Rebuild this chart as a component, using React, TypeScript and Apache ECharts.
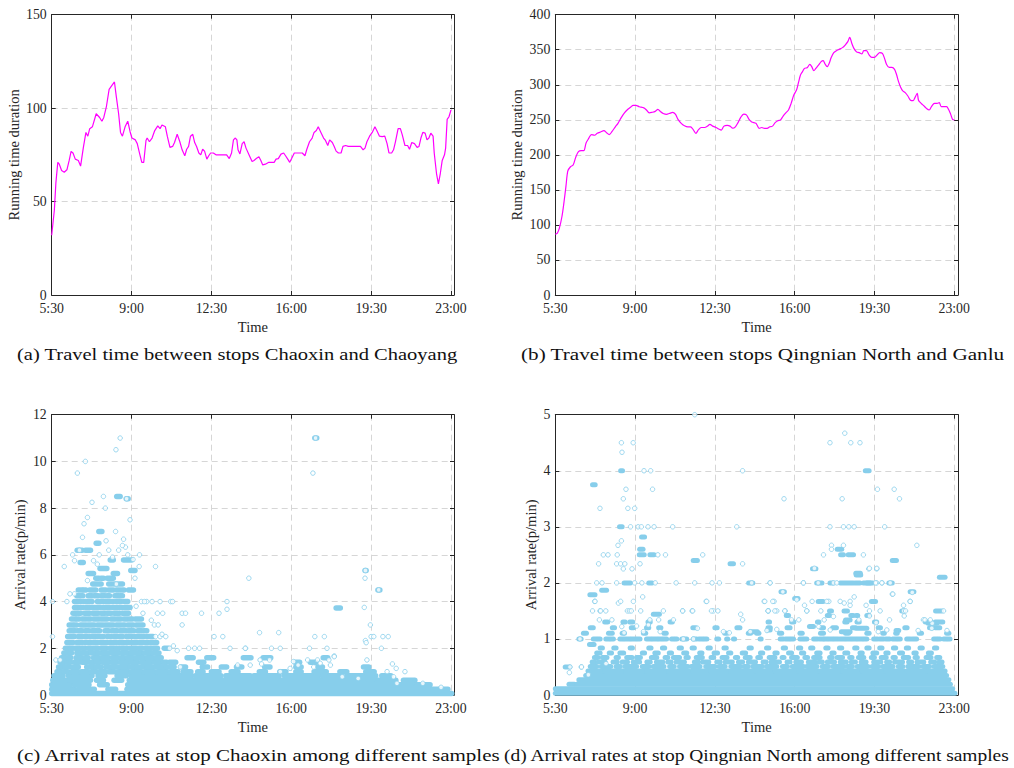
import { useEffect, useRef } from 'react';
import * as echarts from 'echarts';

// x values: minutes after 5:30
const timeTickLabels = ['5:30', '9:00', '12:30', '16:00', '19:30', '23:00'];

const travelTimeChaoxinChaoyang: [number, number][] = [
  [0,32],[7,45.5],[11,60],[16,71],[20,70],[26,66.6],[33,65.7],[40,67],[46,72],[51,76.8],[56,76],[62,72.7],[70,72],[76,69],[83,78.6],[90,87],[95,85],[100,89],[107,90],[117,97],[126,95],[132,93],[137,95],[144,101],[151,110],[158,112],[165,114],[170,106],[176,97],[181,87],[186,85],[193,90],[200,93],[206,87.5],[211,84],[220,83],[225,81],[232,75],[237,71],[242,71],[248,82.7],[251,84],[257,82],[264,84],[271,88],[279,90.5],[285,89],[290,91],[299,90],[304,85],[311,79],[318,79.5],[323,81.6],[330,86],[337,82],[343,77.7],[350,74.5],[355,78],[360,79.5],[365,85],[371,86],[376,81.6],[381,79.5],[387,76],[392,75],[397,78],[402,77],[408,72.7],[413,74.5],[418,76],[425,76],[432,75],[446,75],[460,75],[467,73],[473,76],[478,83],[483,84],[487,83],[490,77.7],[495,75.5],[501,81],[506,82],[511,78.6],[520,74.5],[527,71.4],
  [532,72],[538,73],[545,74],[550,72],[555,69.6],[562,70],[571,71],[585,71],[590,72.7],[596,73],[603,75.4],[610,76],[615,74.5],[622,72.3],[626,71],[631,73],[638,76],[652,76],[659,76],[666,74.5],[671,78],[678,82],[685,84],[690,87],[696,88],[701,90],[708,87],[715,84],[720,82.7],[726,80],[731,83],[738,81.6],[743,79.5],[748,77],[754,76],[761,76],[766,79.5],[773,80],[780,79.5],[794,79.5],[812,79.5],[819,77.7],[824,78.6],[829,82],[836,85],[843,87],[850,90],[855,88],[862,85],[869,84.8],[876,85],[882,81],[887,76],[894,76],[899,77.7],[904,82],[911,89],[917,89],[922,85.7],[929,80],[936,80],[941,78],[947,81.6],[954,81],[961,79],[966,79.5],[971,84],[976,87],[982,86.6],[987,83],[992,84],[997,86.6],[1003,85],[1006,76],[1012,65],[1017,59.5],[1022,65],[1027,72],[1033,75],[1036,78.6],[1040,94],[1045,95.5],[1050,99]
];

const travelTimeQingnianGanlu: [number, number][] = [
  [0,87],[5,88],[10.5,95],[17.5,112],[23,133],[28,155],[33,177],[40,183],[47,185.5],[54,197],[61,204.5],[68,206],[75,206],[81,217],[88,223.5],[95,229],[103.5,228],[110.5,230.7],[119,232.6],[128,234.5],[135,231.6],[142,229],[149,233],[158,240],[165,245],[174,253.5],[182,260],[191,265],[198,268],[205,270.6],[212,270.6],[221,268.7],[233,267],[240,264],[247,260],[254,260.6],[263,262],[270,265],[277,261.6],[284,259],[293,257.8],[300,259],[309,260.6],[316,258],[323,250.7],[331.5,245],[340,241.6],[349,240],[356,240],[363,236],[370,230.7],[377,236],[384,239],[393,239],[400,240.7],[407,243.5],[414,241],[423,239],[430,237],[437,235.4],[444,241],[452.5,242],[460,241],[467,238],[474,240],[481,246],[488,253.5],[496,258],[503,257],[510,250.6],[517,247],[528,245],
  [531,242.6],[536.5,237.8],[543.5,239],[550.6,237.8],[557.6,237.8],[564.6,240],[571.7,241],[578.7,246],[585.7,248.7],[592.7,249.7],[599.7,255.4],[606.8,260],[613.8,264],[620.8,273.5],[627.8,285.4],[634.9,292.5],[640,303],[645.4,314],[650.7,318.7],[656,323.4],[663,324.4],[670,329],[675,325.8],[680.5,320],[685.8,323.4],[692.8,328],[699.8,333],[705,334.4],[710,329.6],[715.6,325.8],[721,330.6],[726,338.6],[733,345.8],[740,348.6],[747,350.5],[756,353],[763,356.7],[770,361.5],[775,367.7],[780.6,359],[786,352],[793,347],[800,345.8],[807,344],[812,348.6],[819,348.6],[826,342.5],[833,339],[840,339],[847,342.5],[854,345.8],[861,344.8],[866.6,337.7],[872,329],[879,324.8],[886,324.8],[893,322],[898,315],[903.5,304.4],[909,296.3],[914,291.6],[921,288.7],[928,284],[935,278],[942,277.3],[947,282],[952.7,287.8],[956,278],[963,273.5],[970,270],[977,266.3],[984,264],[991,269.7],[998,273.5],[1005,273.5],[1010.6,274.4],[1016,268.7],[1023,268.7],[1030,268.7],[1035,265],[1040,259],[1045.7,250.7],[1051,249.7]
];

// runs of equal arrival rate: [start, end, rate]
const arrivalRunsChaoxin: [number, number, number][] = [
  [0,1052,0.06],
  [0,60,0.25],[70,112,0.25],[148,168,0.25],[198,1042,0.25],
  [0,50,0.44],[60,98,0.44],[126,146,0.44],[200,995,0.44],
  [3,38,0.63],[48,102,0.63],[118,136,0.63],[164,184,0.63],[204,905,0.63],[925,955,0.63],
  [6,30,0.82],[44,106,0.82],[122,140,0.82],[172,196,0.82],[208,368,0.82],[378,445,0.82],[458,522,0.82],[532,598,0.82],[612,702,0.82],[712,762,0.82],[776,852,0.82],[868,892,0.82],
  [14,26,1.0],[32,42,1.0],[52,70,1.0],[78,96,1.0],[104,118,1.0],[126,142,1.0],[150,166,1.0],[174,202,1.0],[210,236,1.0],[244,270,1.0],[278,304,1.0],[312,332,1.0],[346,366,1.0],[384,398,1.0],[420,440,1.0],[472,490,1.0],[546,562,1.0],[600,616,1.0],[642,656,1.0],[690,722,1.0],[758,776,1.0],[826,848,1.0],
  [18,30,1.2],[36,46,1.2],[56,70,1.2],[92,108,1.2],[116,130,1.2],[142,156,1.2],[162,176,1.2],[184,200,1.2],[206,216,1.2],[224,240,1.2],[250,266,1.2],[274,292,1.2],[300,322,1.2],[340,352,1.2],[396,410,1.2],[446,460,1.2],[486,500,1.2],[560,574,1.2],[642,656,1.2],[700,712,1.2],[820,834,1.2],
  [22,34,1.4],[40,50,1.4],[60,72,1.4],[80,92,1.4],[100,112,1.4],[118,126,1.4],[134,150,1.4],[158,170,1.4],[180,204,1.4],[210,226,1.4],[236,262,1.4],[270,288,1.4],[294,302,1.4],[310,326,1.4],[386,400,1.4],[640,652,1.4],[680,696,1.4],
  [26,38,1.6],[44,50,1.6],[64,80,1.6],[88,96,1.6],[110,124,1.6],[132,150,1.6],[160,174,1.6],[182,190,1.6],[198,214,1.6],[222,242,1.6],[250,266,1.6],[274,288,1.6],[356,372,1.6],[408,426,1.6],[504,524,1.6],[556,576,1.6],[714,726,1.6],
  [32,42,1.8],[48,52,1.8],[66,78,1.8],[86,94,1.8],[104,116,1.8],[122,128,1.8],[136,150,1.8],[158,176,1.8],[186,200,1.8],[208,236,1.8],[244,258,1.8],[266,282,1.8],
  [36,46,2.0],[50,56,2.0],[62,74,2.0],[80,88,2.0],[96,108,2.0],[114,122,2.0],[130,144,2.0],[152,164,2.0],[170,178,2.0],[184,198,2.0],[206,222,2.0],[228,238,2.0],[246,262,2.0],[268,278,2.0],[296,306,2.0],
  [40,48,2.25],[52,56,2.25],[66,80,2.25],[88,102,2.25],[110,120,2.25],[128,146,2.25],[154,170,2.25],[178,190,2.25],[196,202,2.25],[210,224,2.25],[232,252,2.25],[260,276,2.25],
  [42,52,2.5],[56,60,2.5],[70,82,2.5],[86,92,2.5],[100,116,2.5],[122,136,2.5],[146,156,2.5],[164,186,2.5],[196,210,2.5],[218,232,2.5],[236,242,2.5],[250,266,2.5],
  [46,54,2.75],[58,62,2.75],[68,80,2.75],[88,98,2.75],[106,118,2.75],[122,126,2.75],[140,150,2.75],[158,172,2.75],[180,196,2.75],[202,216,2.75],[226,236,2.75],[242,250,2.75],
  [46,56,3.0],[60,66,3.0],[76,90,3.0],[96,112,3.0],[120,134,3.0],[140,162,3.0],[170,182,3.0],[188,192,3.0],[200,214,3.0],[222,240,3.0],
  [52,62,3.25],[66,72,3.25],[80,90,3.25],[96,102,3.25],[110,124,3.25],[130,146,3.25],[156,166,3.25],[172,182,3.25],[190,200,3.25],[206,212,3.25],[220,236,3.25],
  [56,66,3.5],[70,76,3.5],[86,100,3.5],[108,122,3.5],[130,140,3.5],[146,156,3.5],[164,178,3.5],[186,202,3.5],
  [60,70,3.75],[76,82,3.75],[90,100,3.75],[106,112,3.75],[116,128,3.75],[136,152,3.75],[160,172,3.75],[178,186,3.75],[192,206,3.75],
  [60,68,4.0],[72,76,4.0],[84,96,4.0],[100,106,4.0],[120,136,4.0],[142,162,4.0],[170,182,4.0],[190,200,4.0],
  [66,74,4.25],[78,82,4.25],[96,106,4.25],[112,122,4.25],[130,140,4.25],[146,152,4.25],[166,176,4.25],[180,186,4.25],
  [70,80,4.5],[84,90,4.5],[100,116,4.5],[130,142,4.5],[150,162,4.5],[170,178,4.5],[184,190,4.5],[202,215,4.5],
  [108,118,4.75],[124,130,4.75],[150,158,4.75],[164,170,4.75],[176,186,4.75],
  [116,124,5.0],[130,136,5.0],[146,154,5.0],[158,162,5.0],[162,173,5.2],[96,110,5.2],[208,219,5.33],[127,145,5.42],
  [75,83,5.67],[154,162,5.78],[189,210,5.78],[67,80,6.2],[89,102,6.2],[117,124,6.5],[124,132,7.0],[171,180,8.5],[196,201,8.4],
  [748,759,3.72],[692,697,11],[858,863,4.5],[824,827,5.33],[925,947,0.5],[831,848,0.71]
];

const arrivalPointsChaoxin: [number, number][] = [
  [2,2.5],[2,4],[33,5.5],[67.5,9.5],[88.6,10],[106,8.25],[94,7.6],[85,7.33],[81,6.75],[55,6],[73,6.2],[136,8.5],[141,8],[169,10.5],[180,11],[197,8.4],[206,7.5],[168,7],[189,6.67],[194,6.33],[143,6.6],[231,6],[219,5],[273,5.5],[230,5.5],[250,4],[264,4],[285,4],[313,4],[318,4],[343,3.5],[352,3.5],[394,3.5],[440,3.5],[461,4],[461,3.67],[343,3],[278,3.5],[292,3.5],[273,2.5],[285,2.5],[427,2.5],[450,2.5],[360,2],[376,2],[389,2],[469,2],[510,2],[518.5,5],[546.6,2.67],[597,2.67],[578,2],[601,2],[687,9.5],[694,11],[678,2],[724,2],[717,2.5],[692,2.5],[743,1.67],[822,3.75],[824,5],[825,5.33],[838,3],[840,2.5],[847,2.5],[860,4.5],[867,2],[871,2.5],[885,2.5],[829,1.5],[825,2.33],[827,2.24],[896,1.33],[906,1.14],[929,1],[882,1],[899,0.78],[976,0.5],[1024,0.33],[908,0.5],[11,1.5],[22,1.5],[509,2],[548,1.5],[489,1.28],[522,1.28],[552,1.33],[573,1.5],[601,1.0],[627,1.14],[636,1.43],[648,1.28],[673,1.5],[699,1.5],[706,1.36],[729,1.5],[743,1.64],[689,1.2],[733,1.28],[764,0.78],[806,0.71],[338,1.2],[60,4.33],[48,4.33],[40,4],[170,4.75],[110,5.75],[125,6.0],[150,6.2],[160,5.9],[176,6.2],[186,6.4],[200,6.0],[214,5.8],[236,4],[244,4],[222,3.8],[240,3.5],[262,3.2],[270,3.0],[280,3.0],[290,2.6],[300,2.5],[310,2.0],[320,2.1],[330,1.9],[94,4.9],[120,5.6],[60,5.75]
];

const arrivalRunsQingnian: [number, number, number][] = [
  [0,1052,0.03],[0,1046,0.11],[36,50,0.19],[56,1040,0.19],[62,1036,0.27],[80,1030,0.35],
  [86,124,0.43],[131,178,0.43],[186,232,0.43],[240,291,0.43],[298,352,0.43],[361,402,0.43],[409,455,0.43],[463,521,0.43],[528,571,0.43],[579,633,0.43],[641,690,0.43],[697,748,0.43],[756,801,0.43],[808,862,0.43],[870,918,0.43],[926,975,0.43],[983,1026,0.43],
  [92,109,0.51],[121,146,0.51],[160,171,0.51],[183,214,0.51],[229,247,0.51],[258,286,0.51],[301,313,0.51],[327,349,0.51],[358,381,0.51],[396,420,0.51],[431,447,0.51],[462,488,0.51],[497,508,0.51],[520,545,0.51],[556,583,0.51],[598,611,0.51],[624,653,0.51],[662,689,0.51],[703,719,0.51],[731,760,0.51],[768,782,0.51],[795,823,0.51],[834,851,0.51],[862,889,0.51],[903,915,0.51],[928,957,0.51],[968,985,0.51],[997,1020,0.51],
  [97,104,0.59],[113,131,0.59],[152,163,0.59],[176,190,0.59],[205,222,0.59],[241,250,0.59],[266,283,0.59],[296,305,0.59],[318,340,0.59],[366,377,0.59],[388,404,0.59],[425,434,0.59],[447,466,0.59],[482,493,0.59],[508,527,0.59],[547,555,0.59],[568,590,0.59],[610,618,0.59],[633,648,0.59],[666,684,0.59],[694,703,0.59],[716,735,0.59],[750,766,0.59],[779,790,0.59],[805,818,0.59],[838,857,0.59],[872,880,0.59],[893,914,0.59],[930,938,0.59],[952,970,0.59],[988,999,0.59],[1010,1018,0.59],
  [103,112,0.67],[124,136,0.67],[160,166,0.67],[188,202,0.67],[214,224,0.67],[253,267,0.67],[289,296,0.67],[311,327,0.67],[344,350,0.67],[371,387,0.67],[410,417,0.67],[439,452,0.67],[474,480,0.67],[500,513,0.67],[533,540,0.67],[563,578,0.67],[597,602,0.67],[622,637,0.67],[657,664,0.67],[680,697,0.67],[722,729,0.67],[742,756,0.67],[775,781,0.67],[798,812,0.67],[832,840,0.67],[858,871,0.67],[889,895,0.67],[916,930,0.67],[947,953,0.67],[976,989,0.67],[1004,1012,0.67],
  [109,118,0.75],[142,148,0.75],[170,180,0.75],[229,235,0.75],[262,271,0.75],[300,306,0.75],[338,346,0.75],[380,386,0.75],[418,427,0.75],[456,462,0.75],[492,501,0.75],[540,546,0.75],[578,584,0.75],[614,622,0.75],[648,654,0.75],[688,697,0.75],[728,734,0.75],[762,770,0.75],[802,808,0.75],[836,846,0.75],[870,876,0.75],[906,914,0.75],[944,950,0.75],[982,990,0.75],
  [118,124,0.84],[154,160,0.84],[197,203,0.84],[246,252,0.84],[282,288,0.84],[326,332,0.84],[360,366,0.84],[402,408,0.84],[444,450,0.84],[510,516,0.84],[556,562,0.84],[600,606,0.84],[640,646,0.84],[672,678,0.84],[712,718,0.84],[748,754,0.84],[788,794,0.84],[820,826,0.84],[854,860,0.84],[890,896,0.84],[924,930,0.84],[960,966,0.84],[998,1004,0.84],[90,102,0.9],
  [62,68,1.0],[100,108,1.0],[112,118,1.0],[133,142,1.0],[146,153,1.0],[170,178,1.0],[182,196,1.0],[200,212,1.0],[216,223,1.0],[240,252,1.0],[256,268,1.0],[272,280,1.0],[284,293,1.0],[306,312,1.0],[316,320,1.0],[333,338,1.0],[342,346,1.0],[363,372,1.0],[378,388,1.0],[392,399,1.0],[425,430,1.0],[451,454,1.0],[469,472,1.0],[539,542,1.0],[592,600,1.0],[606,616,1.0],[620,627,1.0],[644,652,1.0],[656,662,1.0],[680,690,1.0],[696,705,1.0],[708,715,1.0],[719,730,1.0],[734,745,1.0],[750,762,1.0],[766,778,1.0],[782,792,1.0],[796,808,1.0],[812,820,1.0],[838,848,1.0],[854,864,1.0],[870,880,1.0],[888,898,1.0],[902,908,1.0],[925,935,1.0],[940,951,1.0],[996,1004,1.0],[1008,1013,1.0],[1022,1030,1.0],[1034,1039,1.0],
  [74,82,1.1],[140,150,1.1],[176,182,1.1],[232,238,1.1],[286,292,1.1],[446,452,1.1],[508,514,1.1],[530,536,1.1],[590,596,1.1],[644,650,1.1],[698,706,1.1],[764,772,1.1],[820,826,1.1],[862,866,1.1],[896,900,1.1],[958,964,1.1],[1030,1036,1.1],
  [92,100,1.2],[150,156,1.2],[200,206,1.2],[240,246,1.2],[272,278,1.2],[362,370,1.2],[420,426,1.2],[478,486,1.2],[560,566,1.2],[610,618,1.2],[700,706,1.2],[730,740,1.2],[782,790,1.2],[850,856,1.2],[920,926,1.2],[985,995,1.2],[1000,1012,1.2],
  [130,138,1.3],[178,184,1.3],[196,204,1.3],[244,250,1.3],[302,308,1.3],[560,564,1.3],[622,628,1.3],[690,694,1.3],[762,768,1.3],[794,800,1.3],[840,846,1.3],[974,980,1.3],[1000,1020,1.3],
  [258,274,1.44],[608,614,1.42],[716,722,1.42],[778,784,1.42],[792,796,1.42],[820,826,1.42],
  [26,38,0.5],[98,105,3.75],[91,104.5,1.79],[122,135,1.87],[169,176,3.0],[172,177,4.0],[227,235,2.82],[222,231,2.6],[221,234,2.5],[249,260,2.5],[181,198,2.0],[246,255,2.0],[363,374,2.4],[460,469,2.34],[509,520,2.0],[594,603,1.84],[630,639,1.72],[677,686,2.25],[692,705,1.67],[742,754,2.6],[751,758.5,2.5],[750,785,2.0],[771,785,2.5],[790,802,2.0],[792,804,2.14],[791,803,2.17],[816,826,4.0],[820,836,2.0],[878,887,2.0],[887,898,2.4],[934,944,1.84],[1011,1026,2.1],[1001,1017,1.5],[688,702,2.0],[723,732,2.0],[811,829,2.0],[832,843,1.67],[721.7,727,1.5],[760,769,1.5],[912,918,1.5],[764,776,1.34],[981.6,1004.4,1.28],[512.8,532,1.13],[558.5,565.5,1.16],[669,679.6,1.22],[753,776,1.13],[792,820,1.19],[897,904,1.15]
];

const arrivalPointsQingnian: [number, number][] = [
  [37,0.4],[68.5,0.5],[114,2.34],[109,2.0],[123,2.0],[126.4,2.5],[138.7,2.5],[98,1.5],[117.6,1.5],[133,1.5],[103.6,1.67],[117.6,3.33],[174,4.5],[175.6,4.33],[179,3.5],[186,3.67],[191,3.33],[198,3.0],[165,2.67],[174,2.75],[163,2.5],[161.5,2.34],[172,2.34],[183,2.34],[179,2.25],[161.5,2.0],[205,4.5],[202,2.25],[218,3.0],[226.5,3.0],[244,3.0],[260,3.0],[223,2.34],[251,4.0],[233.5,4.0],[256,3.67],[209,3.33],[270,2.5],[290,2.5],[209,2.0],[228,2.0],[263,2.0],[318,2.0],[309,3.0],[367,5.0],[388,2.5],[367,2.0],[412.6,2.0],[432,2.0],[397,1.67],[416,1.5],[428,1.5],[335,1.5],[360,1.5],[477.6,3.0],[493,4.0],[493,2.34],[565,2.0],[549.6,1.67],[576,1.67],[560,1.5],[583,1.5],[602,3.5],[605,1.5],[653,2.0],[662,1.5],[692,2.0],[706,2.5],[723,4.5],[723,3.0],[727,2.67],[727,2.6],[732,2.0],[741,2.0],[720,1.67],[755,3.5],[758.5,3.0],[762,4.67],[758.5,2.67],[772.6,3.0],[786.6,3.0],[777.8,4.5],[802,4.5],[811,2.5],[825,2.25],[846,2.0],[860,2.0],[846,2.25],[848,3.67],[867,3.0],[887,1.8],[892,3.67],[906,3.5],[951.7,2.67],[934,1.67],[916.5,1.5],[922,1.5],[1022,1.5],[969,1.34],[992,1.28],
  [119.4,1.5],[189.7,1.5],[195,1.5],[200,1.5],[224.8,1.5],[284.5,1.5],[335.4,1.5],[361.7,1.5],[411,1.5],[561,1.5],[116,1.34],[149,1.34],[249,1.34],[272,1.34],[311,1.34],[104.5,1.67],[166,1.64],[172,1.67],[205.5,1.67],[230,1.75],[398.6,1.67],[488,1.44],[493,1.34],[175,1.22],[214,1.23],[245,1.25],[374,1.19],[65,1.0],[337,1.0],[363.5,1.0],[181,1.11],[232,1.13],[276,1.13],[442.5,1.13],[458,1.11],[513,1.13],[557,1.15],[69,0.5],[87,0.36],[38.7,0.5],[133.5,0.56],
  [517,2.0],[565.5,2.0],[653,2.0],[843,2.0],[859.6,2.0],[881.5,2.0],[682,2.26],[827,2.26],[846.4,2.26],[599,1.84],[939.5,1.83],[888.5,1.8],[551.4,1.67],[572.5,1.67],[714.7,1.67],[749.8,1.67],[776,1.67],[934,1.67],[656,1.6],[676,1.67],[760.4,1.64],[776,1.6],[818,1.6],[916.6,1.6],[635.7,1.7],[786.7,1.75],[560,1.5],[578,1.5],[604,1.5],[662,1.5],[699,1.5],[827,1.5],[855,1.5],[621.7,1.34],[641,1.34],[707.7,1.34],[732,1.4],[799,1.34],[827,1.41],[844.6,1.29],[879.8,1.34],[918.4,1.41],[973,1.34],[987,1.34],[583,1.17],[693.6,1.22],[723.5,1.16],[850,1.13],[872.7,1.16],[955,1.15],[991,1.19],[1031,1.15]
];

const captionTexts = [
  '(a) Travel time between stops Chaoxin and Chaoyang',
  '(b) Travel time between stops Qingnian North and Ganlu',
  '(c) Arrival rates at stop Chaoxin among different samples',
  '(d) Arrival rates at stop Qingnian North among different samples',
];

// ---- layout / style ----
const AXIS_COLOR = '#262626';
const GRID_COLOR = '#d6d6d6';
const MAGENTA = '#ff00ff';
const BLUE = '#87ceeb';
const SERIF = 'Liberation Serif';
const CAPTION_SIZE = 17;

const GRIDS = [
  { left: 51.7, top: 14.7, width: 402.3, height: 280.3 },
  { left: 555.3, top: 14.7, width: 402.7, height: 280.3 },
  { left: 51.7, top: 414.7, width: 402.3, height: 280.3 },
  { left: 555.3, top: 414.7, width: 402.7, height: 280.3 },
];
const X_MAX = [1058, 1060, 1058, 1060];
const Y_SPEC = [
  { max: 150, interval: 50, name: 'Running time duration', gap: 30 },
  { max: 400, interval: 50, name: 'Running time duration', gap: 31 },
  { max: 12, interval: 2, name: 'Arrival rate(p/min)', gap: 24 },
  { max: 5, interval: 1, name: 'Arrival rate(p/min)', gap: 17 },
];
const CAPTION_LAYOUT = [
  { x0: 17, x1: 458, y: 354 },
  { x0: 521, x1: 1005, y: 354 },
  { x0: 17, x1: 501, y: 755 },
  { x0: 504, x1: 1010, y: 755 },
];

const timeLabel = (v: number) => {
  const k = v / 210;
  return Number.isInteger(k) && timeTickLabels[k] !== undefined ? timeTickLabels[k] : '';
};

function measure(text: string): number {
  const ctx = document.createElement('canvas').getContext('2d');
  if (!ctx) return text.length * 8;
  ctx.font = `${CAPTION_SIZE}px "${SERIF}"`;
  return ctx.measureText(text).width;
}

function runRenderer(width: number) {
  return (_params: any, api: any) => {
    const p0 = api.coord([api.value(0), api.value(2)]);
    const p1 = api.coord([api.value(1), api.value(2)]);
    return {
      type: 'line',
      shape: { x1: p0[0], y1: p0[1], x2: p1[0], y2: p1[1] },
      style: { stroke: BLUE, lineWidth: width, lineCap: 'round', fill: null },
    };
  };
}

export default function App() {
  const ref = useRef<HTMLDivElement>(null);

  useEffect(() => {
    if (!ref.current) return;
    const chart = echarts.init(ref.current, undefined, { renderer: 'svg', width: 1014, height: 768 });

    const xAxis: any[] = [];
    const yAxis: any[] = [];
    GRIDS.forEach((_g, i) => {
      const common = {
        type: 'value', gridIndex: i, min: 0, max: X_MAX[i], interval: 210,
        axisLine: { show: true, onZero: false, lineStyle: { color: AXIS_COLOR, width: 1 } },
        axisTick: { show: true, inside: true, length: 4, lineStyle: { color: AXIS_COLOR } },
      };
      xAxis.push({
        ...common, position: 'bottom',
        axisLabel: { show: true, margin: 6, formatter: timeLabel, fontFamily: SERIF, fontSize: 13.8, color: AXIS_COLOR },
        splitLine: { show: true, lineStyle: { type: [6, 4], color: GRID_COLOR, width: 1 } },
        name: 'Time', nameLocation: 'middle', nameGap: 24,
        nameTextStyle: { fontFamily: SERIF, fontSize: 14.5, color: AXIS_COLOR },
      });
      xAxis.push({
        ...common, position: 'top',
        axisLabel: { show: false }, splitLine: { show: false },
      });
      const ys = Y_SPEC[i];
      const ycommon = {
        type: 'value', gridIndex: i, min: 0, max: ys.max, interval: ys.interval,
        axisLine: { show: true, onZero: false, lineStyle: { color: AXIS_COLOR, width: 1 } },
        axisTick: { show: true, inside: true, length: 4, lineStyle: { color: AXIS_COLOR } },
      };
      yAxis.push({
        ...ycommon, position: 'left',
        axisLabel: { show: true, margin: 5, fontFamily: SERIF, fontSize: 13.8, color: AXIS_COLOR },
        splitLine: { show: true, lineStyle: { type: [6, 4], color: GRID_COLOR, width: 1 } },
        name: ys.name, nameLocation: 'middle', nameGap: ys.gap,
        nameTextStyle: { fontFamily: SERIF, fontSize: 14.5, color: AXIS_COLOR },
      });
      yAxis.push({
        ...ycommon, position: 'right',
        axisLabel: { show: false }, splitLine: { show: false },
      });
    });

    const graphic = captionTexts.map((t, i) => {
      const L = CAPTION_LAYOUT[i];
      const w = measure(t);
      return {
        type: 'text', x: L.x0, y: L.y, scaleX: (L.x1 - L.x0) / w, originX: 0, originY: 0,
        style: {
          text: t, fontSize: CAPTION_SIZE, fontFamily: SERIF, fill: '#111',
          textAlign: 'left', textVerticalAlign: 'middle', align: 'left', verticalAlign: 'middle',
        },
      };
    });

    chart.setOption({
      animation: false,
      backgroundColor: '#ffffff',
      grid: GRIDS.map((g) => ({ ...g, containLabel: false, show: false })),
      xAxis,
      yAxis,
      graphic,
      series: [
        {
          type: 'line', xAxisIndex: 0, yAxisIndex: 0, data: travelTimeChaoxinChaoyang,
          symbol: 'none', lineStyle: { color: MAGENTA, width: 1.2 }, silent: true,
        },
        {
          type: 'line', xAxisIndex: 2, yAxisIndex: 2, data: travelTimeQingnianGanlu,
          symbol: 'none', smooth: 0.3, lineStyle: { color: MAGENTA, width: 1.2 }, silent: true,
        },
        {
          type: 'custom', xAxisIndex: 4, yAxisIndex: 4, data: arrivalRunsChaoxin,
          encode: { x: [0, 1], y: 2 }, renderItem: runRenderer(5.5), silent: true, z: 2,
        },
        {
          type: 'scatter', xAxisIndex: 4, yAxisIndex: 4, data: arrivalPointsChaoxin,
          symbol: 'circle', symbolSize: 4.5, silent: true, z: 3,
          itemStyle: { color: '#ffffff', borderColor: BLUE, borderWidth: 1 },
        },
        {
          type: 'custom', xAxisIndex: 6, yAxisIndex: 6, data: arrivalRunsQingnian,
          encode: { x: [0, 1], y: 2 }, renderItem: runRenderer(5), silent: true, z: 2,
        },
        {
          type: 'scatter', xAxisIndex: 6, yAxisIndex: 6, data: arrivalPointsQingnian,
          symbol: 'circle', symbolSize: 4.5, silent: true, z: 3,
          itemStyle: { color: '#ffffff', borderColor: BLUE, borderWidth: 1 },
        },
      ],
    });

    return () => chart.dispose();
  }, []);

  return (
    <div
      ref={ref}
      style={{ position: 'absolute', left: 0, top: 0, width: 1014, height: 768, background: '#fff' }}
    />
  );
}
